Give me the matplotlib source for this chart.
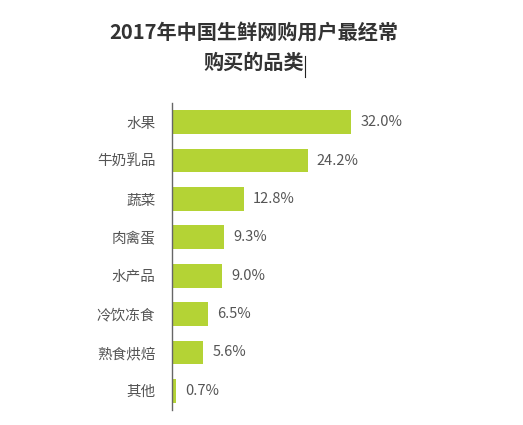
import matplotlib.pyplot as plt
from matplotlib.lines import Line2D

plt.rcParams['font.family'] = ['Noto Sans CJK SC', 'DejaVu Sans']

# 数据
categorias = ['水果', '牛奶乳品', '蔬菜', '肉禽蛋', '水产品', '冷饮冻食', '熟食烘焙', '其他']
valores = [32.0, 24.2, 12.8, 9.3, 9.0, 6.5, 5.6, 0.7]
titulo = '2017年中国生鲜网购用户最经常\n购买的品类'

cor_barra = '#b4d335'
cor_texto = '#555555'

fig = plt.figure(figsize=(5.23, 4.25), dpi=100)
ax = fig.add_axes([172 / 523, 1 - 410 / 425, 224 / 523, 307 / 425])

pos = list(range(len(categorias)))
ax.barh(pos, valores, height=0.62, color=cor_barra)
ax.set_ylim(len(categorias) - 0.5, -0.5)
ax.set_xlim(0, 40)

for p, v in zip(pos, valores):
    ax.text(v + 1.6, p, f'{v:.1f}%', va='center', ha='left', fontsize=10.5, color=cor_texto)

ax.set_yticks(pos)
ax.set_yticklabels(categorias, fontsize=10.5, color=cor_texto)
ax.tick_params(axis='y', length=0, pad=12)
ax.set_xticks([])
for lado in ['top', 'right', 'bottom']:
    ax.spines[lado].set_visible(False)
ax.spines['left'].set_color('#666666')
ax.spines['left'].set_linewidth(1.0)

fig.text(253.5 / 523, 1 - 47 / 425, titulo, ha='center', va='center', fontsize=14.5,
         fontweight='bold', color='#333333', linespacing=1.55)
# cursor de texto depois do título
fig.add_artist(Line2D([305 / 523, 305 / 523], [1 - 56 / 425, 1 - 77 / 425],
                      color='#222222', linewidth=0.8))

fig.savefig('out.png', dpi=100)
